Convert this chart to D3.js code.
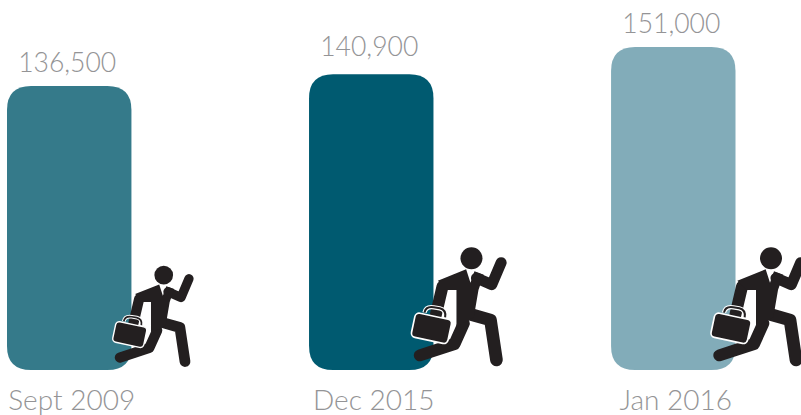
<!DOCTYPE html>
<html><head><meta charset="utf-8">
<script src="https://cdn.jsdelivr.net/npm/d3@7"></script>
<style>html,body{margin:0;padding:0;background:#fff}svg{display:block}
text{font-family:"Lato","Open Sans",sans-serif;font-weight:300;fill:#949496;text-anchor:middle}
.val{font-size:26.5px}.cat{font-size:28px}</style>
</head><body><svg id="c" width="801" height="415"></svg>
<script>
const categories = ["Sept 2009","Dec 2015","Jan 2016"];
const values = [136500,140900,151000];
const barColors = ["#357a8a","#005a70","#82acb9"];
const iconSizes = [0.85,1,1];
const iconShifts = [0,0,-2.5];
const labelGaps = [14,18,14];

const svg = d3.select("#c");
const x = d3.scaleBand().domain(categories).range([7,735.5]).paddingInner(0.588).paddingOuter(0);
const y = d3.scaleLinear().domain([31000,151000]).range([370,47]);
const color = d3.scaleOrdinal().domain(categories).range(barColors);
const size = d3.scaleOrdinal().domain(categories).range(iconSizes);
const fmt = d3.format(",");

const barPath = (x0,y0,w,y1,r)=>{
  const p=d3.path();
  p.moveTo(x0+r,y0);p.lineTo(x0+w-r,y0);p.quadraticCurveTo(x0+w,y0,x0+w,y0+r);
  p.lineTo(x0+w,y1-r);p.quadraticCurveTo(x0+w,y1,x0+w-r,y1);
  p.lineTo(x0+r,y1);p.quadraticCurveTo(x0,y1,x0,y1-r);
  p.lineTo(x0,y0+r);p.quadraticCurveTo(x0,y0,x0+r,y0);p.closePath();
  return p.toString();
};

svg.selectAll("path.bar").data(categories).join("path").attr("class","bar")
  .attr("d",(c,i)=>barPath(x(c),y(values[i]),x.bandwidth(),y.range()[0],24))
  .attr("fill",c=>color(c));

svg.selectAll("text.val").data(categories).join("text").attr("class","val")
  .attr("x",c=>x(c)+x.bandwidth()/2-2).attr("y",(c,i)=>y(values[i])-labelGaps[i])
  .text((c,i)=>fmt(values[i]));
svg.selectAll("text.cat").data(categories).join("text").attr("class","cat")
  .attr("x",c=>x(c)+x.bandwidth()/2+2.5).attr("y",410).text(c=>c);

const ink="#231f20";
const icons = svg.selectAll("g.icon").data(categories).join("g").attr("class","icon")
  .attr("transform",(c,i)=>{const s=size(c);return `translate(${x(c)+x.bandwidth()-33*s+iconShifts[i]},${370-130*s}) scale(${s/3})`;});
icons.append("circle").attr("cx",213).attr("cy",55).attr("r",33).attr("fill",ink);
const limb=(g,d,w)=>g.append("path").attr("d",d).attr("fill","none").attr("stroke",ink)
  .attr("stroke-width",w).attr("stroke-linecap","round").attr("stroke-linejoin","round");
limb(icons,"M302,68L274,134L228,114",33);
limb(icons,"M126,140L106,225",36);
limb(icons,"M200,220L270,240L288,360",38);
limb(icons,"M190,250L162,312L58,346",36);
icons.append("path").attr("fill",ink)
  .attr("d","M112,122L197,88L210,128L222,94L250,104L234,150L220,232L168,262L168,150L140,150Z");
icons.append("path").attr("fill","none").attr("stroke","#fff").attr("stroke-width",13)
  .attr("d","M72,218Q76,198 100,202L118,205Q138,210 134,232");
icons.append("path").attr("fill","none").attr("stroke",ink).attr("stroke-width",6)
  .attr("d","M72,218Q76,198 100,202L118,205Q138,210 134,232");
icons.append("rect").attr("x",-56).attr("y",-37).attr("width",112).attr("height",74).attr("rx",13)
  .attr("transform","translate(93,265) rotate(12)")
  .attr("fill",ink).attr("stroke","#fff").attr("stroke-width",5);
</script></body></html>
